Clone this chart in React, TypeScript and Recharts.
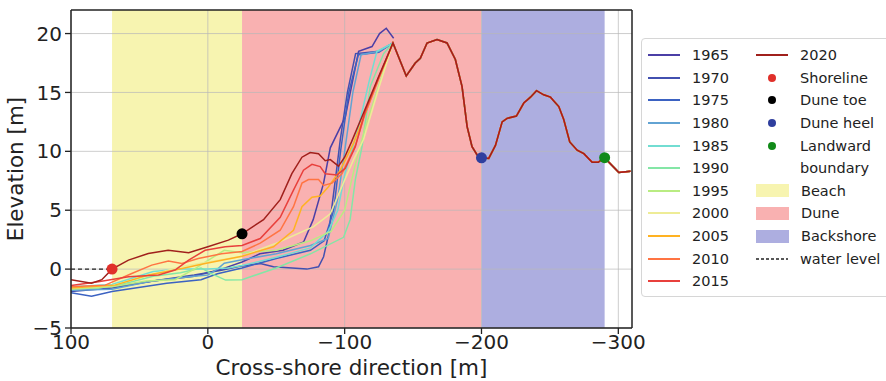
import React from "react";
import {
  ComposedChart,
  Line,
  Scatter,
  XAxis,
  YAxis,
  ReferenceArea,
  ReferenceLine,
} from "recharts";

const FONT = "DejaVu Sans, Verdana, sans-serif";

const years = ["1965", "1970", "1975", "1980", "1985", "1990", "1995", "2000", "2005", "2010", "2015", "2020"];
const yearColors = [
  "#4b3fa6", "#4250b0", "#3b62c2", "#62a3d3", "#72ddd2", "#84e6a6",
  "#b9ec82", "#eeec96", "#ffb222", "#ff7443", "#e8403c", "#a0201c",
];

// shared landward part of the profile (crest → landward boundary)
const backProfile: [number, number][] = [
  [-135.3, 19.2], [-145, 16.4], [-151.6, 17.5], [-155.3, 17.9], [-160.2, 19.2],
  [-167.5, 19.5], [-174.8, 19.2], [-180.9, 17.8], [-185.8, 15.5], [-189.5, 12.1],
  [-193.1, 10.4], [-196.8, 9.7], [-200.4, 9.45], [-205.3, 9.4], [-210.2, 10.5],
  [-215.1, 12.5], [-218.7, 12.8], [-225.5, 13.0], [-230.9, 14.1], [-235.8, 14.6],
  [-240.2, 15.15], [-245.5, 14.8], [-250.4, 14.6], [-256.5, 13.8], [-260.1, 12.7],
  [-264.5, 10.8], [-269.9, 10.1], [-274.8, 9.8], [-280.9, 9.07], [-285.3, 9.07],
  [-289.9, 9.46], [-300.4, 8.2], [-308.9, 8.3],
];

// seaward parts per survey year
const front1965: [number, number][] = [
  [100, -1.7], [70, -1.5], [40, -1.0], [10, -0.6], [-10, 0], [-25, 0.6], [-38, 1.3],
  [-55, 1.6], [-70, 2.3], [-77, 4.2], [-84.6, 7.3], [-89.5, 10.3], [-100.4, 12.9],
  [-105, 15.5], [-110.2, 18.5], [-120, 18.9], [-125.5, 20.0], [-130.4, 20.45], [-135.8, 19.6],
];
const front1970: [number, number][] = [
  [100, -1.9], [70, -1.6], [40, -1.0], [10, -0.5], [-10, -0.1], [-23.6, 0.25], [-38.3, 0.48],
  [-48, 0.2], [-72.4, 0], [-80.9, 0.2], [-84.6, 1.05], [-88.2, 2.9], [-90.7, 5.3],
  [-94.4, 8.7], [-96.8, 11], [-102, 15], [-108, 18.3], [-125, 18.5],
];
const front1975: [number, number][] = [
  [100, -2.0], [85, -2.3], [70, -1.9], [30, -1.2], [5, -0.9], [-7, -0.4], [-25, 0.1],
  [-50, 0.9], [-75, 1.6], [-85, 2.4], [-92, 5], [-97, 10], [-103, 15], [-110, 18.2], [-125, 18.4],
];
const front1980: [number, number][] = [
  [100, -1.8], [70, -1.7], [40, -1.0], [10, -0.6], [0, -0.5], [-7, 0], [-12, 0.5],
  [-25, 0.8], [-50, 1.3], [-75, 2.0], [-88, 2.6], [-95, 6], [-100, 10], [-106, 15],
  [-112, 18.2], [-125, 18.5],
];
const front1985: [number, number][] = [
  [100, -1.5], [70, -1.3], [40, -0.2], [20, 0], [0, 0], [-15, 0.1], [-25, 0.3],
  [-50, 1.0], [-75, 1.8], [-88, 3.2], [-95, 5], [-100, 8], [-110, 12], [-118, 16], [-123.6, 18.5],
];
const front1990: [number, number][] = [
  [100, -1.6], [80, -1.6], [60, -1.2], [40, -0.6], [20, -0.3], [5, 0.1], [-3, -0.4],
  [-13, -0.93], [-25, -0.9], [-50, 0.1], [-75, 1.3], [-99.2, 2.7], [-104, 4.2],
  [-107.8, 7.6], [-112.7, 10.4], [-118.7, 15.5], [-128.5, 18.3],
];
const front1995: [number, number][] = [
  [100, -1.7], [70, -1.5], [45, -1.0], [24, -0.9], [10, 0], [-12, 1.6], [-25, 1.4],
  [-50, 1.6], [-75, 2.4], [-90, 3.2], [-100, 5], [-108, 9], [-115, 12], [-125, 15.6],
];
const front2000: [number, number][] = [
  [100, -1.6], [70, -1.4], [45, -0.6], [20, 0.2], [0, 0.6], [-23.6, 1.05], [-50, 2.2],
  [-77.3, 3.6], [-89.5, 4.7], [-96.8, 6.7], [-106.5, 9.3], [-113.8, 11], [-125, 15.4],
];
const front2005: [number, number][] = [
  [100, -1.6], [67.8, -1.36], [43.5, -0.5], [24, -0.08], [2, 0.48], [-25, 1.1],
  [-48, 1.9], [-62.6, 3.3], [-68.8, 5.3], [-76.1, 6.1], [-82.1, 6.2], [-88.2, 7.0],
  [-96.8, 8.4], [-106.5, 10.7], [-115, 13.2], [-125, 16.2],
];
const front2010: [number, number][] = [
  [100, -1.5], [75, -1.36], [55.6, -0.37], [41, 0.34], [28.8, 0.68], [19, 0.48], [7, 0.9],
  [-10, 1.3], [-25, 1.5], [-38.3, 2.2], [-52.9, 3.3], [-62.6, 5.3], [-68.8, 7.3],
  [-73.6, 7.6], [-80.9, 7.6], [-84.6, 7.1], [-90.7, 7.3], [-98, 8.1], [-107.8, 10.5],
  [-115, 13.2], [-125, 16.2],
];
const front2015: [number, number][] = [
  [100, -1.4], [80, -1.07], [58, -0.65], [36, -0.5], [24, -0.08], [14, 0.76], [2, 1.6],
  [-12.7, 1.9], [-25, 2.0], [-38.3, 2.6], [-52.9, 4.4], [-62.6, 6.7], [-69.9, 8.4],
  [-76.1, 8.9], [-82.1, 8.7], [-85.8, 8.1], [-94.4, 8.0], [-100.4, 8.55], [-107.8, 10.4],
  [-115, 13.4], [-125, 16.3],
];
const front2020: [number, number][] = [
  [100, -0.9], [85, -1.2], [77.5, -0.9], [70, 0], [58, 0.76], [43.5, 1.33], [29, 1.6],
  [14, 1.4], [0, 1.9], [-15, 2.46], [-25, 3], [-40.7, 4.2], [-52.9, 5.9], [-61.4, 8.1],
  [-68.8, 9.5], [-74.8, 9.9], [-80.9, 9.8], [-85.8, 9.2], [-89.5, 9.3], [-95.5, 8.75],
  [-100, 9.5], [-105, 10.8], [-115, 13.6], [-125, 16.4],
];

const fronts = [
  front1965, front1970, front1975, front1980, front1985, front1990,
  front1995, front2000, front2005, front2010, front2015, front2020,
];

// 1965 stops at the crest, the others continue landward
const toPts = (a: [number, number][]) => a.map(([x, y]) => ({ x, y }));
const profiles = fronts.map((f, i) => toPts(i === 0 ? f : f.concat(backProfile)));

const shoreline = [{ x: 70, y: 0 }];
const duneToe = [{ x: -25, y: 3 }];
const duneHeel = [{ x: -200, y: 9.45 }];
const landward = [{ x: -290, y: 9.46 }];
const waterLevel = [{ x: 100, y: 0 }, { x: 70, y: 0 }];

const xTicks = [100, 0, -100, -200, -300];
const yTicks = [-5, 0, 5, 10, 15, 20];

const zones = [
  { name: "Beach", from: 70, to: -25, color: "#f7f4b0" },
  { name: "Dune", from: -25, to: -200, color: "#f9b1b1" },
  { name: "Backshore", from: -200, to: -290, color: "#adaee0" },
];

const fmt = (v: number) => String(v).replace("-", "\u2212");
const GRID = "#b8b8b8";

function Swatch({ kind, color }: { kind: string; color?: string }) {
  if (kind === "line")
    return (
      <svg width={32} height={10}>
        <line x1={0} x2={32} y1={5} y2={5} stroke={color} strokeWidth={2} />
      </svg>
    );
  if (kind === "dot")
    return (
      <svg width={32} height={10}>
        <circle cx={16} cy={5} r={4} fill={color} />
      </svg>
    );
  if (kind === "patch")
    return <div style={{ width: 31, height: 11, background: color, border: `1px solid ${color}` }} />;
  if (kind === "dash")
    return (
      <svg width={32} height={10}>
        <line x1={0} x2={32} y1={5} y2={5} stroke="#222" strokeWidth={1.5} strokeDasharray="3 2" />
      </svg>
    );
  return <div style={{ width: 32, height: 10 }} />;
}

const legendCol2 = [
  { label: "2020", kind: "line", color: yearColors[11] },
  { label: "Shoreline", kind: "dot", color: "#e0302a" },
  { label: "Dune toe", kind: "dot", color: "#000" },
  { label: "Dune heel", kind: "dot", color: "#2f3f9e" },
  { label: "Landward", kind: "dot", color: "#108a18" },
  { label: "boundary", kind: "none" },
  { label: "Beach", kind: "patch", color: zones[0].color },
  { label: "Dune", kind: "patch", color: zones[1].color },
  { label: "Backshore", kind: "patch", color: zones[2].color },
  { label: "water level", kind: "dash" },
];

function LegendBox() {
  const row = (key: string, label: string, kind: string, color?: string) => (
    <div key={key} style={{ height: 22.6, display: "flex", alignItems: "center", gap: 12 }}>
      <Swatch kind={kind} color={color} />
      <span>{label}</span>
    </div>
  );
  return (
    <div
      style={{
        position: "absolute",
        left: 641,
        top: 38,
        width: 270,
        height: 259,
        border: "1px solid #d6d6d6",
        borderRadius: 4,
        background: "#fff",
        fontFamily: FONT,
        fontSize: 14.5,
        color: "#222",
        display: "flex",
        paddingTop: 5,
        boxSizing: "border-box",
      }}
    >
      <div style={{ marginLeft: 6, width: 108 }}>
        {years.slice(0, 11).map((y, i) => row(y, y, "line", yearColors[i]))}
      </div>
      <div>{legendCol2.map((d) => row(d.label, d.label, d.kind, d.color))}</div>
    </div>
  );
}

export default function App() {
  return (
    <div style={{ position: "absolute", left: 0, top: 0, width: 886, height: 381, overflow: "hidden", background: "#fff" }}>
      <ComposedChart width={886} height={381} margin={{ top: 10, right: 254, bottom: 0, left: 0 }}>
        <XAxis
          type="number"
          dataKey="x"
          domain={[-310, 100]}
          reversed
          allowDataOverflow
          ticks={xTicks}
          tickFormatter={fmt}
          height={53}
          tickSize={6}
          tickMargin={1}
          tick={{ fontSize: 20, fill: "#222", fontFamily: FONT }}
          tickLine={{ stroke: "#222", strokeWidth: 1.3 }}
          axisLine={{ stroke: "#222", strokeWidth: 1.5 }}
          label={{ value: "Cross-shore direction [m]", position: "insideBottom", offset: 6, fontSize: 21.5, fill: "#222", fontFamily: FONT }}
        />
        <YAxis
          type="number"
          dataKey="y"
          domain={[-5, 22]}
          allowDataOverflow
          ticks={yTicks}
          tickFormatter={fmt}
          width={71}
          tickSize={6}
          tickMargin={3}
          tick={{ fontSize: 20, fill: "#222", fontFamily: FONT }}
          tickLine={{ stroke: "#222", strokeWidth: 1.3 }}
          axisLine={{ stroke: "#222", strokeWidth: 1.5 }}
          label={{ value: "Elevation [m]", angle: -90, position: "insideLeft", offset: 15, fontSize: 21.5, fill: "#222", fontFamily: FONT, style: { textAnchor: "middle" } }}
        />
        {zones.map((z) => (
          <ReferenceArea key={z.name} x1={z.from} x2={z.to} y1={-5} y2={22} fill={z.color} fillOpacity={1} stroke="none" />
        ))}
        {xTicks.map((t) => (
          <ReferenceLine key={"gx" + t} x={t} stroke={GRID} strokeOpacity={0.7} strokeWidth={1} />
        ))}
        {yTicks.map((t) => (
          <ReferenceLine key={"gy" + t} y={t} stroke={GRID} strokeOpacity={0.7} strokeWidth={1} />
        ))}
        <ReferenceLine y={22} stroke="#222" strokeWidth={1.5} />
        <ReferenceLine x={-310} stroke="#222" strokeWidth={1.5} />
        <Line data={waterLevel} dataKey="y" stroke="#222" strokeWidth={1.3} strokeDasharray="4 3" dot={false} isAnimationActive={false} />
        {profiles.map((p, i) => (
          <Line
            key={years[i]}
            data={p}
            dataKey="y"
            stroke={yearColors[i]}
            strokeWidth={1.5}
            dot={false}
            isAnimationActive={false}
          />
        ))}
        <Scatter data={shoreline} dataKey="y" fill="#e0302a" shape={(p: any) => <circle cx={p.cx} cy={p.cy} r={5.5} fill="#e0302a" />} isAnimationActive={false} />
        <Scatter data={duneToe} dataKey="y" fill="#000" shape={(p: any) => <circle cx={p.cx} cy={p.cy} r={5.5} fill="#000" />} isAnimationActive={false} />
        <Scatter data={duneHeel} dataKey="y" fill="#2f3f9e" shape={(p: any) => <circle cx={p.cx} cy={p.cy} r={5.5} fill="#2f3f9e" />} isAnimationActive={false} />
        <Scatter data={landward} dataKey="y" fill="#108a18" shape={(p: any) => <circle cx={p.cx} cy={p.cy} r={5.5} fill="#108a18" />} isAnimationActive={false} />
      </ComposedChart>
      <LegendBox />
    </div>
  );
}
